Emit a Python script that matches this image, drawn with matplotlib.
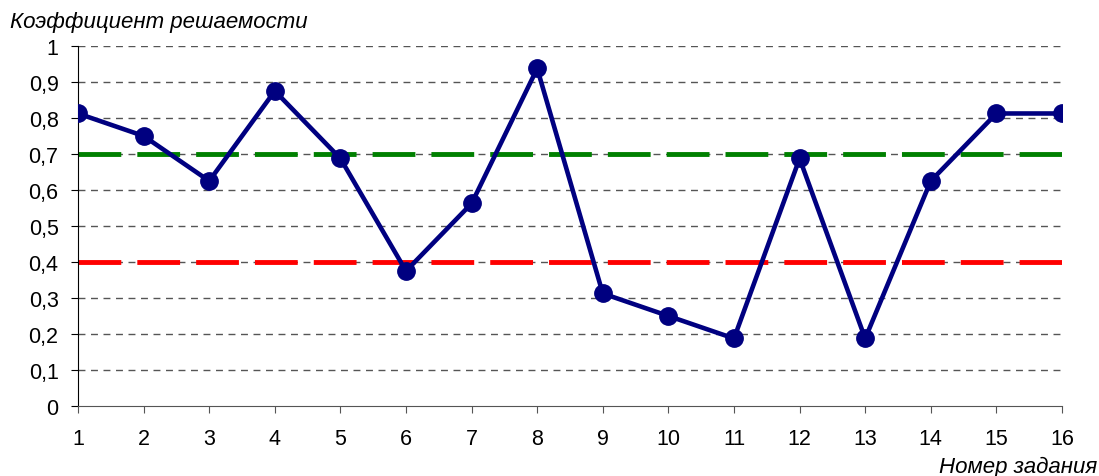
import numpy as np
import matplotlib
matplotlib.use("Agg")
import matplotlib.pyplot as plt

plt.rcParams['font.family'] = ['Liberation Sans', 'DejaVu Sans']

# task numbers and solvability coefficients
tasks = list(range(1, 17))
values = [0.8125, 0.75, 0.625, 0.875, 0.6875, 0.375, 0.5625, 0.9375,
          0.3125, 0.25, 0.1875, 0.6875, 0.1875, 0.625, 0.8125, 0.8125]
upper_level = 0.7
lower_level = 0.4
y_ticks = [0, 0.1, 0.2, 0.3, 0.4, 0.5, 0.6, 0.7, 0.8, 0.9, 1]
y_labels = ["0", "0,1", "0,2", "0,3", "0,4", "0,5", "0,6", "0,7", "0,8", "0,9", "1"]

fig = plt.figure(figsize=(10.99, 4.77), dpi=100)
ax = fig.add_axes([0.071, 0.1468, 0.8953, 0.7547])

for t in y_ticks[1:]:
    ax.axhline(t, color="#555555", lw=1, dashes=(5, 4), zorder=1)

ax.axhline(upper_level, color="#008000", lw=3.5, dashes=(8.8, 3.3), zorder=2)
ax.axhline(lower_level, color="#ff0000", lw=3.5, dashes=(8.8, 3.3), zorder=2)

ax.plot(tasks, values, color="#000080", lw=3.3, marker="o", markersize=12.5, zorder=3)

ax.set_xlim(1, 16)
ax.set_ylim(0, 1)
ax.set_xticks(tasks)
ax.set_yticks(y_ticks)
ax.set_yticklabels(y_labels)
ax.tick_params(axis="both", labelsize=15.5, length=5, direction="out")
ax.tick_params(axis="y", pad=9)
ax.tick_params(axis="x", color="#555555", pad=11)
for s in ["top", "right"]:
    ax.spines[s].set_visible(False)
ax.spines["bottom"].set_color("#555555")
ax.spines["left"].set_color("black")

fig.text(0.009, 0.953, "Коэффициент решаемости", fontsize=16, style="italic",
         ha="left", va="center")
fig.text(0.998, 0.021, "Номер задания", fontsize=16, style="italic",
         ha="right", va="center")

fig.savefig("out.png", dpi=100)
